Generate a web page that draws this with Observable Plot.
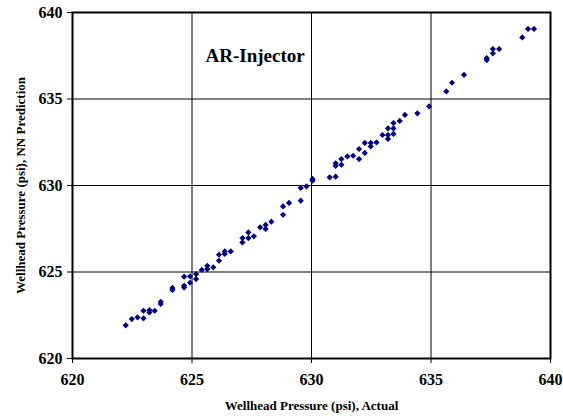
<!DOCTYPE html>
<html>
<head>
<meta charset="utf-8">
<script src="https://cdn.jsdelivr.net/npm/d3@7"></script>
<script src="https://cdn.jsdelivr.net/npm/@observablehq/plot@0.6"></script>
<style>
  html, body { margin: 0; padding: 0; background: #fff; }
</style>
</head>
<body>
<div id="chart"></div>
<script>
const actual = [
  622.23, 622.48, 622.72, 622.97, 622.97, 623.22, 623.22, 623.44, 623.69, 623.69,
  624.18, 624.18, 624.67, 624.67, 624.67, 624.92, 624.92, 625.17, 625.17, 625.41,
  625.64, 625.64, 625.89, 626.13, 626.13, 626.37, 626.37, 626.62, 627.11, 627.11,
  627.36, 627.36, 627.59, 627.85, 628.08, 628.08, 628.32, 628.81, 628.81, 629.06,
  629.55, 629.55, 629.79, 630.04, 630.04, 630.76, 631.01, 631.01, 631.01, 631.25,
  631.25, 631.50, 631.74, 631.99, 631.99, 632.23, 632.23, 632.48, 632.48, 632.72,
  632.97, 633.20, 633.20, 633.20, 633.43, 633.43, 633.43, 633.69, 633.91, 634.43,
  634.92, 635.64, 635.88, 636.38, 637.33, 637.33, 637.59, 637.59, 637.85, 638.82,
  639.06, 639.31
];
const predicted = [
  621.92, 622.28, 622.38, 622.32, 622.76, 622.80, 622.66, 622.76, 623.28, 623.15,
  624.08, 623.96, 624.21, 624.11, 624.73, 624.75, 624.38, 624.88, 624.59, 625.12,
  625.36, 625.17, 625.27, 626.00, 625.65, 626.19, 626.04, 626.19, 626.96, 626.71,
  627.29, 626.96, 627.06, 627.58, 627.72, 627.49, 627.91, 628.79, 628.31, 628.99,
  629.86, 629.12, 629.95, 630.38, 630.28, 630.47, 630.51, 631.28, 631.14, 631.53,
  631.20, 631.68, 631.72, 632.11, 631.53, 632.46, 631.88, 632.46, 632.26, 632.49,
  632.92, 633.30, 632.92, 632.69, 633.61, 633.30, 632.98, 633.73, 634.08, 634.17,
  634.57, 635.44, 635.94, 636.40, 637.37, 637.25, 637.89, 637.64, 637.89, 638.56,
  639.05, 639.05
];
const xTicks = [620, 625, 630, 635, 640];
const yTicks = [620, 625, 630, 635, 640];
const chartTitle = "AR-Injector";
const xLabel = "Wellhead Pressure (psi), Actual";
const yLabel = "Wellhead Pressure (psi), NN Prediction";

const points = actual.map((a, i) => ({actual: a, predicted: predicted[i]}));

const chart = Plot.plot({
  width: 563,
  height: 418,
  marginLeft: 72,
  marginRight: 13,
  marginTop: 12,
  marginBottom: 60,
  style: {fontFamily: "'Liberation Serif', 'Times New Roman', serif", fontWeight: "bold", fontSize: "16px", color: "#000", background: "#fff"},
  x: {domain: [620, 640], ticks: xTicks},
  y: {domain: [620, 640], ticks: yTicks},
  marks: [
    Plot.gridX(xTicks, {stroke: "#000", strokeOpacity: 1, strokeWidth: 1}),
    Plot.gridY(yTicks, {stroke: "#000", strokeOpacity: 1, strokeWidth: 1}),
    Plot.frame({stroke: "#000", strokeWidth: 2}),
    Plot.axisX(xTicks, {tickSize: 5, tickPadding: 10, label: null, stroke: "#000", fontSize: 16, fontWeight: "bold", tickFormat: d => String(d)}),
    Plot.axisY(yTicks, {tickSize: 5, tickPadding: 5, label: null, stroke: "#000", fontSize: 16, fontWeight: "bold", tickFormat: d => String(d)}),
    Plot.dot(points, {x: "actual", y: "predicted", symbol: "diamond2", r: 2.8, fill: "#000080", stroke: "none"}),
    Plot.text([chartTitle], {frameAnchor: "top-left", dx: 133, dy: 36, fontSize: 19, fontWeight: "bold", textAnchor: "start", fill: "#000"}),
    Plot.text([xLabel], {frameAnchor: "bottom", dy: 51, fontSize: 13, fontWeight: "bold", fill: "#000"}),
    Plot.text([yLabel], {frameAnchor: "left", dx: -52, rotate: -90, textAnchor: "middle", fontSize: 13, fontWeight: "bold", fill: "#000"})
  ]
});
document.getElementById("chart").appendChild(chart);
</script>
</body>
</html>
